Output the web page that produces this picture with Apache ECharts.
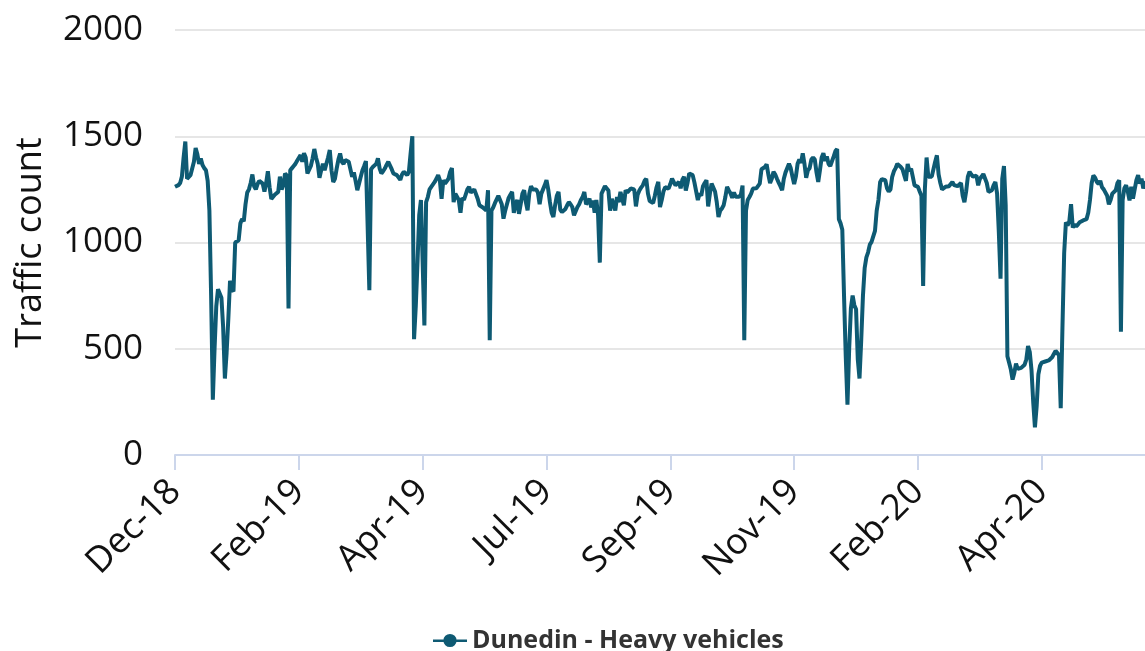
<!DOCTYPE html>
<html>
<head>
<meta charset="utf-8">
<script src="https://cdn.jsdelivr.net/npm/echarts@6/dist/echarts.min.js"></script>
<style>
html,body{margin:0;padding:0;background:#fff;}
#chart{width:1145px;height:651px;}
</style>
</head>
<body>
<div id="chart"></div>
<script>
// Daily heavy-vehicle counts, Dunedin, starting 1 Dec 2018
var startDate = '2018-12-01';
var tickLabels = ['Dec-18','Feb-19','Apr-19','Jul-19','Sep-19','Nov-19','Feb-20','Apr-20'];
var yTicks = [0, 500, 1000, 1500, 2000];
var seriesName = 'Dunedin - Heavy vehicles';

var dec2018 = [1262,1265,1270,1280,1310,1400,1475,1300,1293,1317,1309,1380,1445,1415,1370,1395,1365,1350,1340,1290,1150,750,260,500,700,780,760,740,600,360,480];
var jan2019 = [640,820,780,770,1000,1005,1010,1090,1110,1100,1180,1235,1250,1280,1320,1265,1250,1275,1290,1285,1277,1240,1280,1335,1260,1205,1212,1225,1230,1238,1310];
var feb2019 = [1250,1270,1325,1315,690,1340,1350,1360,1370,1385,1390,1411,1380,1420,1400,1325,1330,1360,1396,1440,1400,1370,1305,1340,1370,1340,1345,1400];
var mar2019 = [1435,1340,1285,1300,1348,1390,1419,1380,1370,1388,1385,1380,1372,1309,1330,1290,1246,1277,1309,1340,1360,1383,1383,775,1345,1355,1356,1370,1396,1348,1325];
var apr2019 = [1335,1348,1365,1380,1388,1345,1325,1322,1317,1310,1295,1320,1333,1325,1317,1333,1420,1500,545,700,907,1130,1200,1195,610,1190,1214,1250,1262,1269];
var may2019 = [1285,1300,1317,1293,1206,1293,1277,1285,1300,1333,1350,1190,1230,1225,1200,1140,1210,1200,1200,1250,1262,1235,1240,1250,1245,1206,1175,1180,1165,1159,1151];
var jun2019 = [1246,540,1150,1165,1185,1190,1220,1228,1180,1112,1150,1180,1210,1225,1238,1140,1180,1200,1135,1180,1230,1246,1190,1151,1230,1265,1250,1252,1250,1235];
var jul2019 = [1180,1230,1250,1270,1293,1250,1190,1140,1120,1175,1220,1238,1155,1143,1150,1158,1175,1190,1180,1167,1128,1135,1167,1180,1200,1214,1238,1180,1190,1206,1165];
var aug2019 = [1198,1140,1200,1128,905,1230,1230,1265,1270,1245,1150,1206,1200,1151,1214,1190,1238,1230,1175,1246,1235,1240,1254,1246,1250,1170,1225,1245,1258,1269,1290];
var sep2019 = [1300,1230,1195,1200,1186,1220,1260,1285,1167,1200,1240,1260,1265,1254,1275,1301,1295,1269,1262,1285,1255,1295,1309,1245,1280,1325,1330,1317,1283,1277];
var oct2019 = [1200,1230,1220,1265,1280,1293,1170,1230,1277,1285,1240,1190,1120,1150,1160,1175,1214,1262,1245,1232,1210,1236,1215,1222,1215,1225,1268,540,1150,1200,1214];
var nov2019 = [1230,1254,1255,1255,1260,1277,1345,1348,1355,1368,1320,1280,1300,1333,1320,1300,1282,1265,1246,1300,1330,1350,1370,1350,1310,1275,1310,1370,1390,1375];
var dec2019 = [1420,1370,1305,1340,1350,1390,1400,1390,1330,1285,1340,1400,1420,1385,1405,1370,1360,1358,1405,1430,1440,1110,1090,1060,750,465,237,500,690,750,705];
var jan2020 = [686,450,360,540,749,880,930,954,990,1003,1012,1055,1150,1200,1285,1298,1301,1293,1255,1240,1250,1309,1335,1350,1370,1365,1355,1345,1317,1290,1370];
var feb2020 = [1335,1348,1309,1269,1268,1262,1240,1220,796,1250,1400,1310,1305,1310,1317,1380,1410,1320,1280,1250,1255,1262,1269,1265,1262,1285,1270,1277,1265];
var mar2020 = [1260,1280,1220,1190,1240,1310,1333,1320,1310,1305,1315,1269,1300,1310,1322,1330,1280,1238,1246,1246,1270,1285,1230,1050,830,1300,1360,1175,465,434,402];
var apr2020 = [355,386,430,405,405,410,415,425,450,513,485,400,250,130,229,380,420,435,440,440,440,445,450,460,475,490,485,470,220,600];
var may2020 = [950,1095,1080,1100,1180,1070,1085,1075,1085,1095,1100,1104,1112,1110,1140,1200,1280,1315,1305,1285,1275,1290,1260,1250,1250,1220,1180,1200,1230,1225,1246];
var jun2020 = [1280,1293,580,1200,1255,1269,1240,1198,1262,1206,1250,1293,1317,1277,1301,1254,1290];

var values = [].concat(dec2018, jan2019, feb2019, mar2019, apr2019, may2019, jun2019,
  jul2019, aug2019, sep2019, oct2019, nov2019, dec2019, jan2020, feb2020, mar2020,
  apr2020, may2020, jun2020);

var categories = [];
var d0 = new Date(startDate + 'T00:00:00Z');
for (var i = 0; i < values.length; i++) {
  var d = new Date(d0.getTime() + i * 86400000);
  categories.push(d.toISOString().slice(0, 10));
}
var TICK_STEP = 72;

var FONT = '"Open Sans", "Noto Sans", sans-serif';
var chart = echarts.init(document.getElementById('chart'), null, {renderer: 'canvas'});
chart.setOption({
  animation: false,
  backgroundColor: '#ffffff',
  textStyle: {fontFamily: FONT},
  grid: {left: 175, right: 0, top: 30, bottom: 196, containLabel: false},
  legend: {
    data: [{name: seriesName, icon: 'path://M0,6H36V8.5H0Z M18,0A7,7 0 1,1 17.99,0Z'}],
    left: 428, top: 623,
    itemWidth: 34, itemHeight: 14,
    itemGap: 10,
    textStyle: {fontFamily: FONT, fontSize: 25, fontWeight: 'bold', color: '#333333'}
  },
  xAxis: {
    type: 'category',
    data: categories,
    boundaryGap: false,
    axisLine: {lineStyle: {color: '#ccd6eb', width: 2}},
    axisTick: {show: true, interval: TICK_STEP - 1, length: 15, lineStyle: {color: '#ccd6eb', width: 2}},
    axisLabel: {
      interval: TICK_STEP - 1,
      rotate: 45,
      margin: 31,
      fontSize: 36,
      color: '#111111',
      fontFamily: FONT,
      formatter: function (v, idx) { return tickLabels[Math.round(idx / TICK_STEP)] || ''; }
    },
    splitLine: {show: false}
  },
  yAxis: {
    type: 'value',
    min: yTicks[0], max: yTicks[yTicks.length - 1], interval: yTicks[1] - yTicks[0],
    name: 'Traffic count',
    nameLocation: 'middle',
    nameRotate: 90,
    nameGap: 126,
    nameTextStyle: {fontSize: 36, color: '#111111', fontFamily: FONT},
    axisLine: {show: false},
    axisTick: {show: false},
    axisLabel: {fontSize: 35, color: '#111111', margin: 32, fontFamily: FONT,
      formatter: function (v) { return String(v); }},
    splitLine: {lineStyle: {color: '#e6e6e6', width: 2}}
  },
  series: [{
    name: seriesName,
    type: 'line',
    data: values,
    showSymbol: false,
    symbol: 'circle',
    lineStyle: {color: '#0e5a73', width: 4},
    itemStyle: {color: '#0e5a73'},
    emphasis: {disabled: true}
  }]
});
</script>
</body>
</html>
